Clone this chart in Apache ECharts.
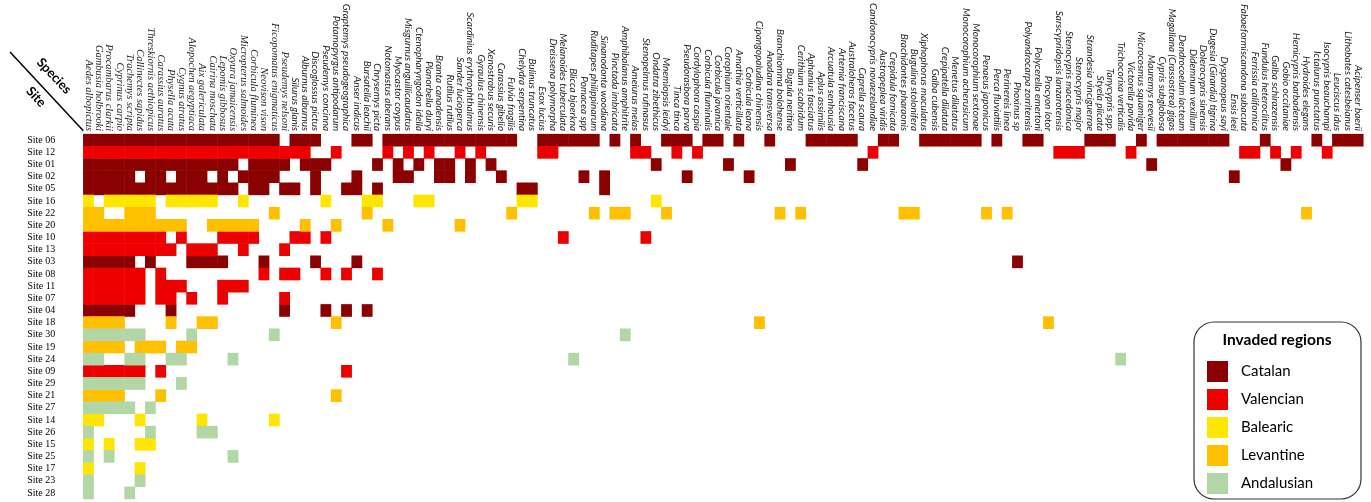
<!DOCTYPE html>
<html>
<head>
<meta charset="utf-8">
<script src="https://cdn.jsdelivr.net/npm/echarts@6/dist/echarts.min.js"></script>
<style>
  html, body { margin: 0; padding: 0; background: #fff; }
  #chart { width: 1371px; height: 502px; }
</style>
</head>
<body>
<div id="chart"></div>
<script>
// Invasive species recorded at each site, coloured by the invaded region of the site
const species = [
  'Aedes albopictus', 'Gambusia holbrooki', 'Procambarus clarkii', 'Cyprinus carpio',
  'Trachemys scripta', 'Callinectes sapidus', 'Threskiornis aethiopicus', 'Carassius auratus',
  'Physella acuta', 'Cygnus atratus', 'Alopochen aegyptiaca', 'Aix galericulata',
  'Cairina moschata', 'Lepomis gibbosus', 'Oxyura jamaicensis', 'Micropterus salmoides',
  'Corbicula fluminea', 'Neovison vison', 'Ficopomatus enigmaticus', 'Pseudemys nelsoni',
  'Silurus glanis', 'Alburnus alburnus', 'Discoglossus pictus', 'Pseudemys concinna',
  'Potamopyrgus antipodarum', 'Graptemys pseudogeographica', 'Anser indicus', 'Bursatella leachii',
  'Chrysemys picta', 'Notomastus aberans', 'Myocastor coypus', 'Misgurnus anguillicaudatus',
  'Ctenopharyngodon idella', 'Planorbella duryi', 'Branta canadensis', 'Rutilus rutilus',
  'Sander lucioperca', 'Scardinius erythrophthalmus', 'Gyraulus chinensis', 'Xenostrobus securis',
  'Carassius gibelio', 'Fulvia fragilis', 'Chelydra serpentina', 'Bulinus truncatus',
  'Esox lucius', 'Dreissena polymorpha', 'Melanoides tuberculata', 'Blicca bjoerkna',
  'Pomacea spp', 'Ruditapes philippinarum', 'Sinanodonta woodiana', 'Pinctada imbricata',
  'Amphibalanus amphitrite', 'Ameiurus melas', 'Stenopelmus rufinasus', 'Ondatra zibethicus',
  'Mnemiopsis leidyi', 'Tinca tinca', 'Pseudorasbora parva', 'Cordylophora caspia',
  'Corbicula fluminalis', 'Corbicula javanica', 'Corophium orientale', 'Amathia verticillata',
  'Corbicula leana', 'Cipangopaludina chinensis', 'Anadara transversa', 'Branchiomma bolohense',
  'Bugula neritina', 'Cerithium scabridum', 'Aphanius fasciatus', 'Aplus assimilis',
  'Arcuatula senhousia', 'Artemia franciscana', 'Australoheros facetus', 'Caprella scaura',
  'Candonocypris novaezelandiae', 'Austropeplea viridis', 'Crepidula fornicata', 'Brachidontes pharaonis',
  'Bugulina stolonifera', 'Xiphophorus maculatus', 'Galba cubensis', 'Crepipatella dilatata',
  'Menetus dilatatus', 'Monocorophium acherusicum', 'Monocorophium sextonae', 'Penaeus japonicus',
  'Perca fluviatilis', 'Perinereis linea', 'Phoxinus sp', 'Polyandrocarpa zorritensis',
  'Polycerella emertoni', 'Procyon lotor', 'Sarscypridopsis lanzarotensis', 'Stenocypris macedonica',
  'Stenocypris major', 'Strandesia vinciguerrae', 'Styela plicata', 'Tanycypris spp.',
  'Trichocorixa verticalis', 'Victorella pavida', 'Microcosmus squamiger', 'Mauremys reevesii',
  'Cypris subglobosa', 'Magallana (Crassostrea) gigas', 'Dendrocoelum lacteum', 'Didemnum vexillum',
  'Dolerocypris sinensis', 'Dugesia (Girardia) tigrina', 'Dyspanopeus sayi', 'Ensis leei',
  'Fabaeformiscandona subacuta', 'Ferrissia californica', 'Fundulus heteroclitus', 'Galba schirazensis',
  'Gobio occitaniae', 'Hemicypris barbadensis', 'Hydroides elegans', 'Ictalurus punctatus',
  'Isocypris beauchampi', 'Leuciscus idus', 'Lithobates catesbeianus', 'Acipenser baerii'
];

const sites = [
  'Site 06', 'Site 12', 'Site 01', 'Site 02', 'Site 05', 'Site 16', 'Site 22', 'Site 20',
  'Site 10', 'Site 13', 'Site 03', 'Site 08', 'Site 11', 'Site 07', 'Site 04', 'Site 18',
  'Site 30', 'Site 19', 'Site 24', 'Site 09', 'Site 29', 'Site 21', 'Site 27', 'Site 14',
  'Site 26', 'Site 15', 'Site 25', 'Site 17', 'Site 23', 'Site 28'
];

const regions = ['Catalan', 'Valencian', 'Balearic', 'Levantine', 'Andalusian'];
const regionColors = ['#8b0000', '#ee0000', '#ffe600', '#ffc000', '#b2d6a6'];

const siteRegion = [
  'Catalan', 'Valencian', 'Catalan', 'Catalan', 'Catalan', 'Balearic', 'Levantine', 'Levantine',
  'Valencian', 'Valencian', 'Catalan', 'Valencian', 'Valencian', 'Valencian', 'Catalan', 'Levantine',
  'Andalusian', 'Levantine', 'Andalusian', 'Valencian', 'Andalusian', 'Levantine', 'Andalusian', 'Balearic',
  'Andalusian', 'Balearic', 'Andalusian', 'Balearic', 'Andalusian', 'Andalusian'
];

// species recorded per site: species positions (0-based), "a-b" marks a run of neighbours
const siteSpecies = [
  '0-18 20-22 26-27 29-41 44-49 51 53 56-58 60-61 63 66 70-74 77-78 81-86 88 91-92 97-99 102 104-110 114 119 121-123',
  '0-21 24 29 31 33 36 38 44-45 53-54 57 59 76 94-96 101 112-113 115 117 120',
  '0-14 16-19 21-23 28 30 32 34-35 37 39 55 62 68 75 103 116',
  '0-4 6-7 9-11 13 15-18 22 26 30-31 34-35 37 40 48 50 58 64 111',
  '0-14 16-17 19-20 22 25-26 28 42-43 50',
  '0 2-6 8-12 15 23 27-28 32-33 42-43 55',
  '0-1 4-6 18 27 41 49 51-52 56 67 69 79-80 87 89 118',
  '0-9 12-16 21 24 29 36',
  '0-7 9 13-16 20-21 23 46 54',
  '0-8 10-12 15 19',
  '0-4 6 10-13 17 22 26 90',
  '0-5 7 17 19-20 23 25 28',
  '0-5 7-9 13-15',
  '0-5 7-8 10 13 19',
  '0-4 8 19 23 25 27',
  '0-3 8 11-12 24 65 93',
  '0-5 10 18 52',
  '0-3 5-7 9-10',
  '0-1 4-5 8-9 14 47 100',
  '0-5 7 25',
  '0-5 9',
  '0-3 7 24',
  '0-4 6',
  '0-1 5 11 18',
  '0 6 11-12',
  '0 2 5-6',
  '0 2 14',
  '0 5',
  '0 5',
  '0 4'
];

function parseList(txt) {
  const out = [];
  txt.split(' ').forEach(function (tok) {
    const p = tok.split('-').map(Number);
    const end = p.length > 1 ? p[1] : p[0];
    for (let k = p[0]; k <= end; k++) out.push(k);
  });
  return out;
}

// one heatmap series per region
const seriesData = regions.map(function () { return []; });
siteSpecies.forEach(function (txt, row) {
  const r = regions.indexOf(siteRegion[row]);
  parseList(txt).forEach(function (col) {
    seriesData[r].push([col, row, 1]);
  });
});

// the first block of names is set in a serif italic
const serifCount = 20;
const xData = species.map(function (name, i) {
  return i < serifCount
    ? { value: name, textStyle: { fontFamily: 'Liberation Serif', fontSize: 10.5 } }
    : { value: name };
});

const chart = echarts.init(document.getElementById('chart'), null, { renderer: 'canvas' });

const gridLeft = 83.3, gridTop = 130.7;

chart.setOption({
  animation: false,
  backgroundColor: '#ffffff',
  grid: { left: gridLeft, right: 7.7, top: gridTop, bottom: 3, containLabel: false },
  xAxis: {
    type: 'category',
    position: 'top',
    data: xData,
    axisLine: { show: false },
    axisTick: { show: false },
    splitLine: { show: false },
    axisLabel: {
      interval: 0,
      rotate: 90,
      margin: 3,
      fontSize: 10,
      lineHeight: 9,
      hideOverlap: false,
      fontStyle: 'italic',
      fontFamily: 'Lato',
      color: '#222'
    }
  },
  yAxis: {
    type: 'category',
    inverse: true,
    data: sites,
    axisLine: { show: false },
    axisTick: { show: false },
    splitLine: { show: false },
    axisLabel: {
      interval: 0,
      margin: 28,
      fontSize: 10,
      fontFamily: 'Liberation Serif',
      color: '#000'
    }
  },
  legend: {
    orient: 'vertical',
    left: 1207,
    top: 361,
    padding: 0,
    icon: 'rect',
    itemWidth: 21,
    itemHeight: 21,
    itemGap: 7,
    selectedMode: false,
    data: regions,
    textStyle: { fontSize: 15, fontFamily: 'Lato', color: '#000', padding: [0, 0, 0, 8] }
  },
  series: regions.map(function (name, i) {
    return {
      name: name,
      type: 'heatmap',
      data: seriesData[i],
      itemStyle: { color: regionColors[i], borderWidth: 0 },
      emphasis: { disabled: true },
      progressive: 0
    };
  }),
  graphic: [
    {
      type: 'line',
      shape: { x1: 10, y1: 52, x2: gridLeft, y2: gridTop },
      style: { stroke: '#000', lineWidth: 1.5 }
    },
    {
      type: 'text',
      x: 54, y: 76,
      rotation: -0.82,
      style: {
        text: 'Species', fontSize: 13, fontWeight: 'bold', fontFamily: 'Lato',
        fill: '#000', align: 'center', verticalAlign: 'middle'
      }
    },
    {
      type: 'text',
      x: 36, y: 97,
      rotation: -0.82,
      style: {
        text: 'Site', fontSize: 13, fontWeight: 'bold', fontFamily: 'Lato',
        fill: '#000', align: 'center', verticalAlign: 'middle'
      }
    },
    {
      type: 'rect',
      shape: { x: 1194, y: 322, width: 167, height: 177, r: 20 },
      style: { fill: '#fff', stroke: '#333', lineWidth: 1.2 },
      z: -1
    },
    {
      type: 'text',
      x: 1277, y: 340,
      style: {
        text: 'Invaded regions', fontSize: 15.5, fontWeight: 'bold', fontFamily: 'Lato',
        fill: '#000', align: 'center', verticalAlign: 'middle'
      }
    }
  ]
});
</script>
</body>
</html>
